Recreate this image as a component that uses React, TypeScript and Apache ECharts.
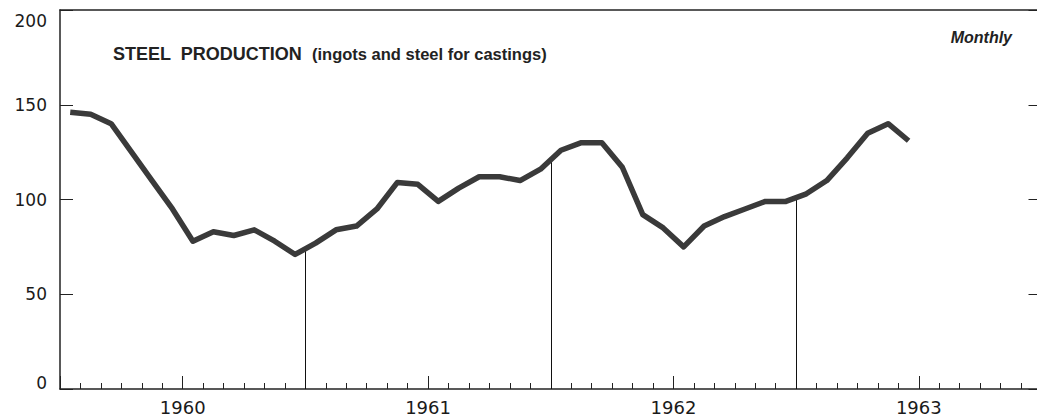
import React, { useEffect, useRef } from "react";
import * as echarts from "echarts";

// Monthly steel production, Jan 1960 – Jun 1963 (index values)
const steel = [
  146, 145, 140, 125, 110, 95, 78, 83, 81, 84, 78, 71,
  77, 84, 86, 95, 109, 108, 99, 106, 112, 112, 110, 116,
  126, 130, 130, 117, 92, 85, 75, 86, 91, 95, 99, 99,
  103, 110, 122, 135, 140, 131,
];
const yearLabels = ["1960", "1961", "1962", "1963"];
const yTicks = [0, 50, 100, 150, 200];
const titleMain = "STEEL  PRODUCTION";
const titleSub = "(ingots and steel for castings)";
const freqLabel = "Monthly";

const INK = "#222";
const PLOT_W = 981.5;
const TICK = 13;

function xAxisBase(extra: any) {
  return {
    type: "value",
    min: 0,
    max: 48,
    axisLine: { show: false },
    axisTick: { show: false },
    axisLabel: { show: false },
    splitLine: { show: false },
    ...extra,
  };
}
function yAxisBase(extra: any) {
  return {
    type: "value",
    min: yTicks[0],
    max: yTicks[yTicks.length - 1],
    interval: 50,
    axisLine: { show: false },
    axisTick: { show: false },
    axisLabel: { show: false },
    splitLine: { show: false },
    ...extra,
  };
}

export default function App() {
  const ref = useRef<HTMLDivElement>(null);
  useEffect(() => {
    document.body.style.margin = "0";
    document.body.style.overflow = "hidden";
    const chart = echarts.init(ref.current!, null, { renderer: "svg" });
    const points = steel.map((v, i) => [i + 0.5, v]);
    // year-boundary drop lines, from the axis up to the data curve
    const boundaries = [12, 24, 36].map((m) => ({
      coords: [
        [m, 0],
        [m, (steel[m - 1] + steel[m]) / 2],
      ],
    }));
    const font = "'DejaVu Sans', sans-serif";
    const titleFont = "'Liberation Sans', sans-serif";
    chart.setOption({
      animation: false,
      backgroundColor: "#ffffff",
      title: [
        {
          text: `{a|${titleMain}}  {b|${titleSub}}`,
          left: 108,
          top: 40,
          textStyle: {
            rich: {
              a: { fontFamily: titleFont, fontWeight: "bold", fontSize: 18, color: INK },
              b: { fontFamily: titleFont, fontWeight: "bold", fontSize: 16.5, color: INK },
            },
          },
        },
        {
          text: freqLabel,
          right: 28,
          top: 24,
          textStyle: {
            fontFamily: titleFont,
            fontWeight: "bold",
            fontStyle: "italic",
            fontSize: 16,
            color: INK,
          },
        },
      ],
      grid: {
        left: 60,
        top: 10,
        width: PLOT_W,
        bottom: 31,
        containLabel: false,
        outerBoundsMode: "none",
      },
      xAxis: [
        // 0: bottom axis line + year labels
        xAxisBase({
          position: "bottom",
          interval: 6,
          axisLine: { show: true, lineStyle: { color: INK, width: 1.5 } },
          axisLabel: {
            show: true,
            margin: 9,
            fontFamily: font,
            fontSize: 18,
            color: "#1a1a1a",
            formatter: (v: number) => (v % 12 === 6 ? yearLabels[(v - 6) / 12] : ""),
          },
        }),
        // 1: monthly short ticks (pointing up into the plot)
        xAxisBase({
          position: "bottom",
          offset: -6,
          interval: 1,
          axisTick: { show: true, length: 6, lineStyle: { color: INK, width: 1 } },
        }),
        // 2: longer mid-year ticks
        xAxisBase({
          position: "bottom",
          offset: -13,
          interval: 6,
          axisTick: { show: true, length: 13, lineStyle: { color: INK, width: 1 } },
        }),
        // 3: top border
        xAxisBase({
          position: "top",
          axisLine: { show: true, lineStyle: { color: INK, width: 1.5 } },
        }),
      ],
      yAxis: [
        // 0: left axis line + labels
        yAxisBase({
          position: "left",
          axisLine: { show: true, lineStyle: { color: INK, width: 1.5 } },
          axisLabel: {
            show: true,
            margin: 13,
            fontFamily: font,
            fontSize: 17,
            color: "#1a1a1a",
            formatter: (v: number) =>
              v === 200 ? `{hi|${v}}` : v === 0 ? `{lo|${v}}` : `${v}`,
            rich: {
              hi: { fontFamily: font, fontSize: 17, color: "#1a1a1a", padding: [21, 0, 0, 0] },
              lo: { fontFamily: font, fontSize: 17, color: "#1a1a1a", padding: [0, 0, 12, 0] },
            },
          },
        }),
        // 1: left-edge inward ticks (axis shifted right by the tick length, ticks point back left)
        yAxisBase({
          position: "left",
          offset: -TICK,
          axisTick: { show: true, length: TICK, lineStyle: { color: INK, width: 1 } },
        }),
        // 2: right-edge inward ticks (left-type axis moved to the right edge, ticks point left)
        yAxisBase({
          position: "left",
          offset: -PLOT_W,
          axisTick: { show: true, length: TICK, lineStyle: { color: INK, width: 1 } },
        }),
      ],
      series: [
        {
          type: "lines",
          coordinateSystem: "cartesian2d",
          xAxisIndex: 0,
          yAxisIndex: 0,
          z: 1,
          silent: true,
          lineStyle: { color: "#111", width: 1, opacity: 1 },
          data: boundaries,
        },
        {
          type: "line",
          xAxisIndex: 0,
          yAxisIndex: 0,
          z: 3,
          data: points,
          symbol: "none",
          lineStyle: { color: "#3a3a3a", width: 5.5, join: "round", cap: "butt" },
        },
      ],
    });
    return () => chart.dispose();
  }, []);
  return (
    <div
      ref={ref}
      style={{ position: "fixed", left: 0, top: 0, width: 1045, height: 420 }}
    />
  );
}
